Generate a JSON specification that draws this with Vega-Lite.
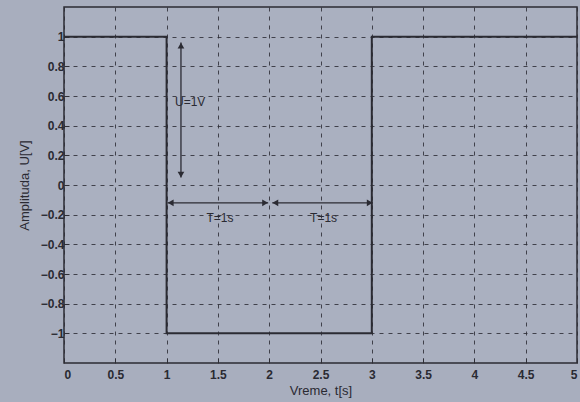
{
  "$schema": "https://vega.github.io/schema/vega-lite/v6.json",
  "autosize": {"type": "none"},
  "width": 513,
  "height": 356,
  "padding": {"left": 64, "top": 7, "right": 3, "bottom": 39},
  "background": "#a8aebe",
  "config": {
    "view": {"stroke": "#2b2b33", "strokeWidth": 1.5, "fill": "#aab0c0"},
    "font": "Liberation Sans",
    "axis": {
      "labelFont": "Liberation Sans",
      "titleFont": "Liberation Sans",
      "labelColor": "#2a2a32",
      "titleColor": "#2a2a32",
      "labelFontSize": 12,
      "labelFontWeight": "bold",
      "labelOverlap": false,
      "labelBound": false,
      "titleFontSize": 13,
      "titleFontWeight": "normal",
      "grid": true,
      "gridColor": "#2e2e36",
      "gridDash": [4, 5],
      "gridWidth": 1,
      "gridOpacity": 0.85,
      "domain": false,
      "ticks": true,
      "tickColor": "#2e2e36",
      "tickWidth": 1
    }
  },
  "datasets": {
    "wave": [
      {"t": 0, "u": 1, "k": 0},
      {"t": 1, "u": 1, "k": 1},
      {"t": 1, "u": -1, "k": 2},
      {"t": 3, "u": -1, "k": 3},
      {"t": 3, "u": 1, "k": 4},
      {"t": 5, "u": 1, "k": 5}
    ],
    "arrows": [
      {"x": 1.14, "y": 0.96, "x2": 1.14, "y2": 0.05},
      {"x": 1.01, "y": -0.12, "x2": 1.99, "y2": -0.12},
      {"x": 2.03, "y": -0.12, "x2": 3.01, "y2": -0.12}
    ],
    "heads": [
      {"x": 1.14, "y": 0.94, "dir": "up"},
      {"x": 1.14, "y": 0.07, "dir": "down"},
      {"x": 1.04, "y": -0.12, "dir": "left"},
      {"x": 1.96, "y": -0.12, "dir": "right"},
      {"x": 2.06, "y": -0.12, "dir": "left"},
      {"x": 2.98, "y": -0.12, "dir": "right"}
    ],
    "labels": [
      {"x": 1.23, "y": 0.56, "text": "U=1V", "align": "left"},
      {"x": 1.52, "y": -0.22, "text": "T=1s", "align": "center"},
      {"x": 2.53, "y": -0.22, "text": "T=1s", "align": "center"}
    ]
  },
  "layer": [
    {
      "data": {"name": "wave"},
      "mark": {"type": "line", "color": "#2b2b33", "strokeWidth": 2, "clip": true},
      "encoding": {
        "x": {
          "field": "t", "type": "quantitative",
          "scale": {"domain": [0, 5], "nice": false},
          "axis": {"values": [0, 0.5, 1, 1.5, 2, 2.5, 3, 3.5, 4, 4.5, 5], "tickCount": 20, "format": "~g", "title": "Vreme, t[s]", "labelPadding": 11, "titlePadding": 4, "tickSize": -5}
        },
        "y": {
          "field": "u", "type": "quantitative",
          "scale": {"domain": [-1.2, 1.2], "nice": false},
          "axis": {"values": [-1, -0.8, -0.6, -0.4, -0.2, 0, 0.2, 0.4, 0.6, 0.8, 1], "tickCount": 20, "format": "~g", "title": "Amplituda, U[V]", "labelPadding": 5, "titlePadding": 9, "tickSize": -5}
        },
        "order": {"field": "k"}
      }
    },
    {
      "mark": {"type": "rule", "color": "#2b2b33", "strokeWidth": 1.5},
      "encoding": {"y": {"datum": 0, "type": "quantitative"}}
    },
    {
      "data": {"name": "arrows"},
      "mark": {"type": "rule", "color": "#2b2b33", "strokeWidth": 1.3},
      "encoding": {
        "x": {"field": "x", "type": "quantitative"},
        "y": {"field": "y", "type": "quantitative"},
        "x2": {"field": "x2"},
        "y2": {"field": "y2"}
      }
    },
    {
      "data": {"name": "heads"},
      "mark": {"type": "point", "filled": true, "color": "#2b2b33", "size": 45, "opacity": 1},
      "encoding": {
        "x": {"field": "x", "type": "quantitative"},
        "y": {"field": "y", "type": "quantitative"},
        "shape": {
          "field": "dir", "type": "nominal",
          "scale": {"domain": ["up", "down", "left", "right"], "range": ["triangle-up", "triangle-down", "triangle-left", "triangle-right"]},
          "legend": null
        }
      }
    },
    {
      "data": {"name": "labels"},
      "mark": {"type": "text", "color": "#2a2a32", "fontSize": 12, "baseline": "middle", "font": "Liberation Sans"},
      "encoding": {
        "x": {"field": "x", "type": "quantitative"},
        "y": {"field": "y", "type": "quantitative"},
        "text": {"field": "text"},
        "align": {"field": "align"}
      }
    }
  ]
}
